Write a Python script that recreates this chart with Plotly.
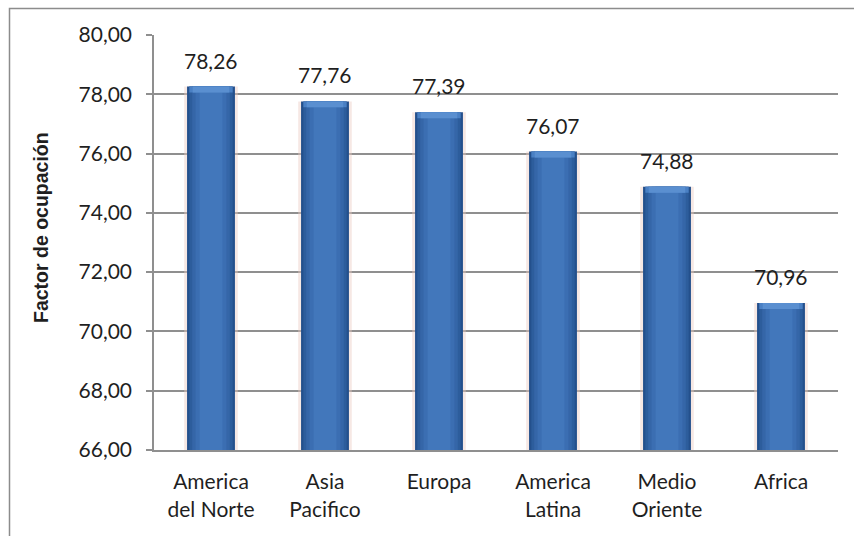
import plotly.graph_objects as go

# Factor de ocupación por región
regiones = ["America<br>del Norte", "Asia<br>Pacifico", "Europa",
            "America<br>Latina", "Medio<br>Oriente", "Africa"]
factor = [78.26, 77.76, 77.39, 76.07, 74.88, 70.96]
y_ticks = [66, 68, 70, 72, 74, 76, 78, 80]

FONT = "Lato"
TXT = "#1f1f1f"

fig = go.Figure()

# soft halo behind each column
fig.add_trace(go.Bar(x=regiones, y=factor, width=0.47,
                     marker=dict(color="rgba(236,205,195,0.45)", line_width=0),
                     hoverinfo="skip"))
# layered fills give the columns a rounded, shaded look
layers = [(0.42, "#24508c"), (0.38, "#2d5d9c"), (0.33, "#3566a8"),
          (0.27, "#3b6eb2"), (0.20, "#4277bb")]
for w, c in layers:
    fig.add_trace(go.Bar(x=regiones, y=factor, width=w,
                         marker=dict(color=c, line_width=0),
                         hoverinfo="skip"))
# lighter bevel along the top edge
bevel = [0.2] * len(factor)
for w, c in [(0.38, "#4a80c4"), (0.32, "#5a8fd0")]:
    fig.add_trace(go.Bar(x=regiones, y=bevel,
                         base=[v - b for v, b in zip(factor, bevel)],
                         width=w, marker=dict(color=c, line_width=0),
                         hoverinfo="skip"))

# value labels above the columns
for r, v in zip(regiones, factor):
    fig.add_annotation(x=r, y=v, text=f"{v:.2f}".replace(".", ","),
                       showarrow=False, yanchor="bottom", yshift=12,
                       font=dict(family=FONT, size=21, color=TXT))

# axis title
fig.add_annotation(xref="paper", yref="paper",
                   x=(41 - 154) / 684, y=(450 - 228) / 415,
                   text="<b>Factor de ocupación</b>", textangle=-90,
                   showarrow=False, xanchor="center", yanchor="middle",
                   font=dict(family="Liberation Sans", size=19.5, color=TXT))

fig.update_layout(
    width=854, height=536,
    margin=dict(l=154, r=16, t=35, b=86),
    barmode="overlay",
    showlegend=False,
    separators=",.",
    paper_bgcolor="white",
    plot_bgcolor="white",
    font=dict(family=FONT, color=TXT),
)
fig.update_yaxes(
    range=[66, 80], tickvals=y_ticks, tickformat=".2f",
    tickfont=dict(family=FONT, size=21, color=TXT),
    showgrid=True, gridcolor="#8f8f8f", gridwidth=1.5,
    showline=True, linecolor="#8f8f8f", linewidth=1.5,
    ticks="outside", ticklen=6, tickcolor="#8f8f8f", tickwidth=1.5,
    ticklabelstandoff=10,
    zeroline=False,
)
fig.update_xaxes(
    tickfont=dict(family=FONT, size=21, color=TXT),
    showline=True, linecolor="#8f8f8f", linewidth=2,
    ticks="", ticklabelstandoff=12,
)

# chart frame
fig.add_shape(type="rect", xref="paper", yref="paper",
              x0=(9.5 - 154) / 684, x1=1.2, y0=-0.3, y1=(450 - 8.5) / 415,
              line=dict(color="#8c8c8c", width=1.5), layer="below")

fig.write_html("out.html")
